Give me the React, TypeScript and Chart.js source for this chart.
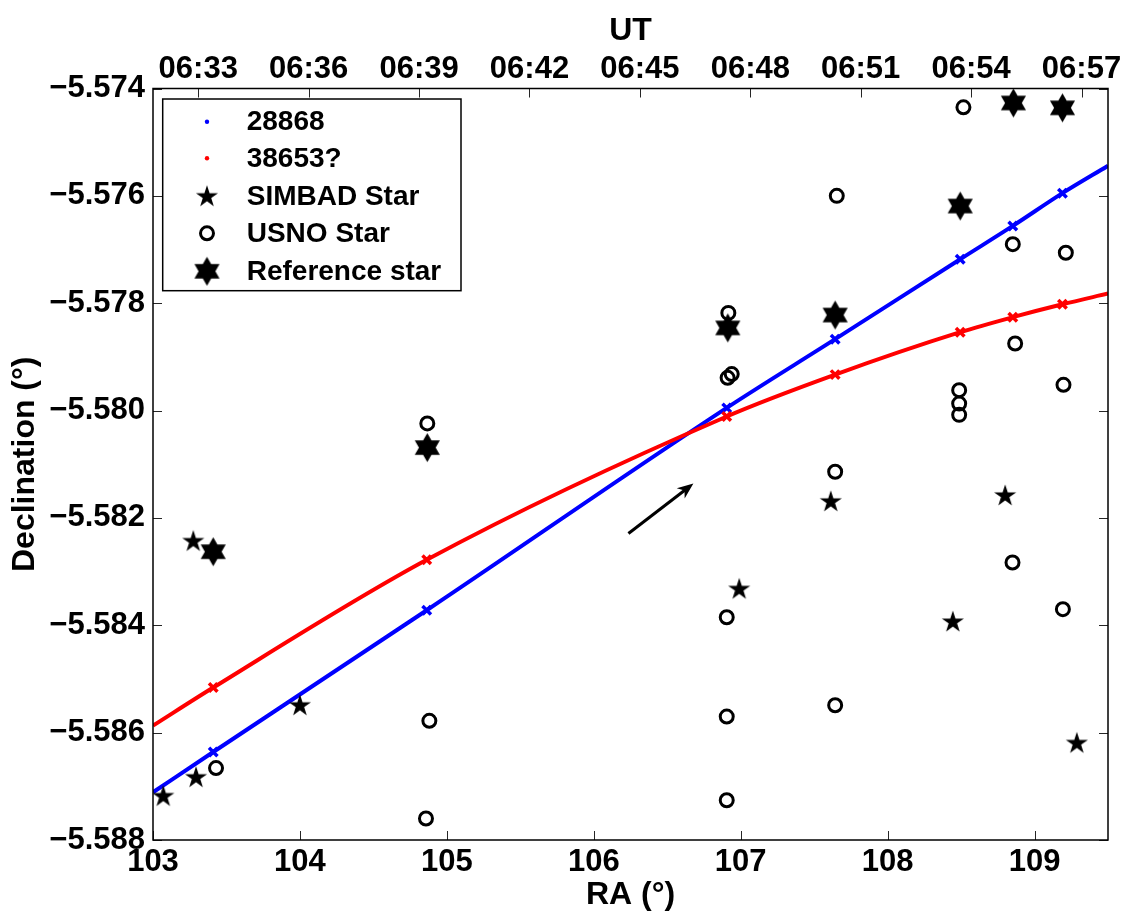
import { useEffect, useRef } from "react";
import { Chart, registerables } from "chart.js";

Chart.register(...registerables);

// ---------- axes ----------
const raTicks = [103, 104, 105, 106, 107, 108, 109];
const decTicks = [-5.588, -5.586, -5.584, -5.582, -5.58, -5.578, -5.576, -5.574];
const utTickMinutes = [33, 36, 39, 42, 45, 48, 51, 54, 57];
const utTickLabels = ["06:33", "06:36", "06:39", "06:42", "06:45", "06:48", "06:51", "06:54", "06:57"];
const raRange = [103, 109.5];
const decRange = [-5.588, -5.574];
const utRange = [31.77, 57.72];

// ---------- series ----------
const ra28868 = [103.0, 103.41, 104.863, 106.905, 107.643, 108.494, 108.852, 109.19, 109.5];
const dec28868 = [-5.58711, -5.58636, -5.58372, -5.57995, -5.57867, -5.57718, -5.57656, -5.57595, -5.57544];
const marker28868 = [false, true, true, true, true, true, true, true, false];

const ra38653 = [103.0, 103.41, 104.863, 106.905, 107.643, 108.494, 108.852, 109.19, 109.5];
const dec38653 = [-5.58587, -5.58516, -5.58278, -5.58011, -5.57933, -5.57854, -5.57826, -5.57802, -5.57782];
const marker38653 = [false, true, true, true, true, true, true, true, false];

const simbadRA = [103.07, 103.274, 103.293, 104.0, 106.99, 107.613, 108.444, 108.8, 109.288];
const simbadDec = [-5.58719, -5.58244, -5.58684, -5.5855, -5.58333, -5.5817, -5.58394, -5.58159, -5.5862];

const usnoRA = [103.429, 104.881, 104.858, 104.867, 106.916, 106.911, 106.939, 106.905, 106.905, 106.905, 107.654, 107.643, 107.643, 108.516, 108.852, 109.213, 108.487, 108.487, 108.487, 109.197, 108.85, 109.193, 108.868];
const usnoDec = [-5.58666, -5.58578, -5.5876, -5.58024, -5.57818, -5.57939, -5.57932, -5.58385, -5.5857, -5.58726, -5.576, -5.58114, -5.58549, -5.57435, -5.5769, -5.57706, -5.57962, -5.57987, -5.58008, -5.57952, -5.58283, -5.5837, -5.57875];

const refRA = [103.41, 104.867, 106.912, 107.643, 108.494, 108.856, 109.19];
const refDec = [-5.58263, -5.58069, -5.57846, -5.57822, -5.57619, -5.57427, -5.57436];

const arrowRA = [106.236, 106.678];
const arrowDec = [-5.58229, -5.58136];

const legendLabels = ["28868", "38653?", "SIMBAD Star", "USNO Star", "Reference star"];

const FONT = "'Liberation Sans', Arial, Helvetica, sans-serif";
const BLUE = "#0000ff";
const RED = "#ff0000";

function makeStar(points: number, outerR: number, innerR: number): HTMLCanvasElement {
  const c = document.createElement("canvas");
  const size = Math.ceil(outerR * 2 + 2);
  c.width = size;
  c.height = size;
  const ctx = c.getContext("2d")!;
  const cx = size / 2;
  const cy = size / 2;
  ctx.beginPath();
  for (let i = 0; i < points * 2; i++) {
    const r = i % 2 === 0 ? outerR : innerR;
    const a = -Math.PI / 2 + (i * Math.PI) / points;
    const x = cx + r * Math.cos(a);
    const y = cy + r * Math.sin(a);
    if (i === 0) ctx.moveTo(x, y);
    else ctx.lineTo(x, y);
  }
  ctx.closePath();
  ctx.fillStyle = "#000";
  ctx.fill();
  return c;
}

export default function App() {
  const ref = useRef<HTMLCanvasElement>(null);

  useEffect(() => {
    const canvas = ref.current!;
    const pentagram = makeStar(5, 11.6, 11.6 * 0.382);
    const hexagram = makeStar(6, 14.5, 14.5 / Math.sqrt(3));

    const frameAndTicks = {
      id: "frameAndTicks",
      afterDatasetsDraw(chart: any) {
        const { ctx, chartArea: a, scales } = chart;
        ctx.save();
        ctx.strokeStyle = "#262626";
        ctx.lineWidth = 1;
        const tl = 9;
        ctx.beginPath();
        for (const v of raTicks) {
          const px = Math.round(scales.x.getPixelForValue(v)) + 0.5;
          ctx.moveTo(px, a.bottom);
          ctx.lineTo(px, a.bottom - tl);
        }
        for (const v of utTickMinutes) {
          const px = Math.round(scales.x2.getPixelForValue(v)) + 0.5;
          ctx.moveTo(px, a.top);
          ctx.lineTo(px, a.top + tl);
        }
        for (const v of decTicks) {
          const py = Math.round(scales.y.getPixelForValue(v)) + 0.5;
          ctx.moveTo(a.left, py);
          ctx.lineTo(a.left + tl, py);
          ctx.moveTo(a.right, py);
          ctx.lineTo(a.right - tl, py);
        }
        ctx.stroke();
        // arrow
        const x0 = scales.x.getPixelForValue(arrowRA[0]);
        const y0 = scales.y.getPixelForValue(arrowDec[0]);
        const x1 = scales.x.getPixelForValue(arrowRA[1]);
        const y1 = scales.y.getPixelForValue(arrowDec[1]);
        const ang = Math.atan2(y1 - y0, x1 - x0);
        const hl = 16;
        const hw = 6.5;
        ctx.strokeStyle = "#000";
        ctx.fillStyle = "#000";
        ctx.lineWidth = 3;
        ctx.beginPath();
        ctx.moveTo(x0, y0);
        ctx.lineTo(x1 - Math.cos(ang) * 6, y1 - Math.sin(ang) * 6);
        ctx.stroke();
        ctx.beginPath();
        const bx = x1 - Math.cos(ang) * hl;
        const by = y1 - Math.sin(ang) * hl;
        const mx = x1 - Math.cos(ang) * hl * 0.7;
        const my = y1 - Math.sin(ang) * hl * 0.7;
        ctx.moveTo(x1, y1);
        ctx.lineTo(bx - Math.sin(ang) * hw, by + Math.cos(ang) * hw);
        ctx.lineTo(mx, my);
        ctx.lineTo(bx + Math.sin(ang) * hw, by - Math.cos(ang) * hw);
        ctx.closePath();
        ctx.fill();
        // frame
        ctx.strokeStyle = "#000";
        ctx.lineWidth = 1.5;
        ctx.strokeRect(a.left, a.top, a.right - a.left, a.bottom - a.top);
        // legend
        const lx = a.left + 9.7;
        const ly = a.top + 10.5;
        const lw = 298.3;
        const lh = 191.7;
        ctx.fillStyle = "#fff";
        ctx.fillRect(lx, ly, lw, lh);
        ctx.strokeStyle = "#000";
        ctx.lineWidth = 1.5;
        ctx.strokeRect(lx, ly, lw, lh);
        const symX = lx + 44.3;
        const textX = lx + 84;
        const rowY = [22.7, 59.3, 97.7, 134.3, 172.3];
        ctx.font = `bold 28px ${FONT}`;
        ctx.textBaseline = "middle";
        ctx.textAlign = "left";
        legendLabels.forEach((label, i) => {
          const yy = ly + rowY[i];
          if (i === 0 || i === 1) {
            ctx.fillStyle = i === 0 ? BLUE : RED;
            ctx.beginPath();
            ctx.arc(symX, yy, 2.2, 0, Math.PI * 2);
            ctx.fill();
          } else if (i === 2) {
            ctx.drawImage(pentagram, symX - pentagram.width / 2, yy - pentagram.height / 2);
          } else if (i === 3) {
            ctx.strokeStyle = "#000";
            ctx.lineWidth = 3;
            ctx.beginPath();
            ctx.arc(symX, yy, 6.5, 0, Math.PI * 2);
            ctx.stroke();
          } else {
            ctx.drawImage(hexagram, symX - hexagram.width / 2, yy - hexagram.height / 2);
          }
          ctx.fillStyle = "#000";
          ctx.fillText(label, textX, yy + 1);
        });
        ctx.restore();
      },
    };

    const tickFont = { family: FONT, size: 31, weight: "bold" as const };
    const titleFont = { family: FONT, size: 32, weight: "bold" as const };

    const chart = new Chart(canvas, {
      type: "scatter",
      data: {
        datasets: [
          {
            type: "line",
            label: "28868",
            data: ra28868.map((x, i) => ({ x, y: dec28868[i] })),
            borderColor: BLUE,
            backgroundColor: BLUE,
            borderWidth: 4,
            cubicInterpolationMode: "monotone",
            pointStyle: "crossRot",
            pointRadius: marker28868.map((m) => (m ? 6 : 0)),
            pointBorderWidth: 3.5,
            pointBorderColor: BLUE,
            order: 5,
          } as any,
          {
            type: "line",
            label: "38653?",
            data: ra38653.map((x, i) => ({ x, y: dec38653[i] })),
            borderColor: RED,
            backgroundColor: RED,
            borderWidth: 4,
            cubicInterpolationMode: "monotone",
            pointStyle: "crossRot",
            pointRadius: marker38653.map((m) => (m ? 6 : 0)),
            pointBorderWidth: 3.5,
            pointBorderColor: RED,
            order: 4,
          } as any,
          {
            label: "SIMBAD Star",
            data: simbadRA.map((x, i) => ({ x, y: simbadDec[i] })),
            pointStyle: pentagram,
            pointRadius: 12,
            order: 3,
          } as any,
          {
            label: "USNO Star",
            data: usnoRA.map((x, i) => ({ x, y: usnoDec[i] })),
            pointStyle: "circle",
            pointRadius: 6.5,
            pointBorderWidth: 3,
            pointBorderColor: "#000",
            pointBackgroundColor: "rgba(0,0,0,0)",
            order: 2,
          } as any,
          {
            label: "Reference star",
            data: refRA.map((x, i) => ({ x, y: refDec[i] })),
            pointStyle: hexagram,
            pointRadius: 15,
            order: 1,
          } as any,
        ],
      },
      options: {
        animation: false,
        responsive: false,
        maintainAspectRatio: false,
        layout: { padding: { left: 0, right: 18, top: 0, bottom: 0 } },
        plugins: {
          legend: { display: false },
          tooltip: { enabled: false },
        },
        scales: {
          x: {
            type: "linear",
            position: "bottom",
            min: raRange[0],
            max: raRange[1],
            afterBuildTicks: (s: any) => {
              s.ticks = raTicks.map((v) => ({ value: v }));
            },
            afterFit: (s: any) => {
              s.height = 74;
            },
            grid: { display: false, drawTicks: false },
            border: { display: false },
            ticks: {
              font: tickFont,
              color: "#000",
              padding: 4,
              maxRotation: 0,
              autoSkip: false,
              callback: (v: any) => String(v),
            },
            title: { display: true, text: "RA (°)", font: titleFont, color: "#000", padding: { top: 0, bottom: 0 } },
          },
          x2: {
            type: "linear",
            position: "top",
            min: utRange[0],
            max: utRange[1],
            afterBuildTicks: (s: any) => {
              s.ticks = utTickMinutes.map((v) => ({ value: v }));
            },
            afterFit: (s: any) => {
              s.height = 88.5;
            },
            grid: { display: false, drawTicks: false },
            border: { display: false },
            ticks: {
              font: tickFont,
              color: "#000",
              padding: 0,
              maxRotation: 0,
              autoSkip: false,
              callback: (v: any) => utTickLabels[utTickMinutes.indexOf(Number(v))] ?? "",
            },
            title: { display: true, text: "UT", font: titleFont, color: "#000", padding: { top: 12, bottom: 0 } },
          },
          y: {
            type: "linear",
            position: "left",
            min: decRange[0],
            max: decRange[1],
            afterBuildTicks: (s: any) => {
              s.ticks = decTicks.map((v) => ({ value: v }));
            },
            afterFit: (s: any) => {
              s.width = 153;
            },
            grid: { display: false, drawTicks: false },
            border: { display: false },
            ticks: {
              font: tickFont,
              color: "#000",
              padding: 8,
              autoSkip: false,
              callback: (v: any) => "\u2212" + Math.abs(Number(v)).toFixed(3),
            },
            title: { display: true, text: "Declination (°)", font: titleFont, color: "#000", padding: { top: 6, bottom: 0 } },
          },
        },
      } as any,
      plugins: [frameAndTicks],
    });
    return () => chart.destroy();
  }, []);

  return (
    <div style={{ position: "absolute", left: 0, top: 0, width: 1126, height: 914, background: "#fff" }}>
      <canvas ref={ref} width={1126} height={914} style={{ display: "block", width: 1126, height: 914 }} />
    </div>
  );
}
